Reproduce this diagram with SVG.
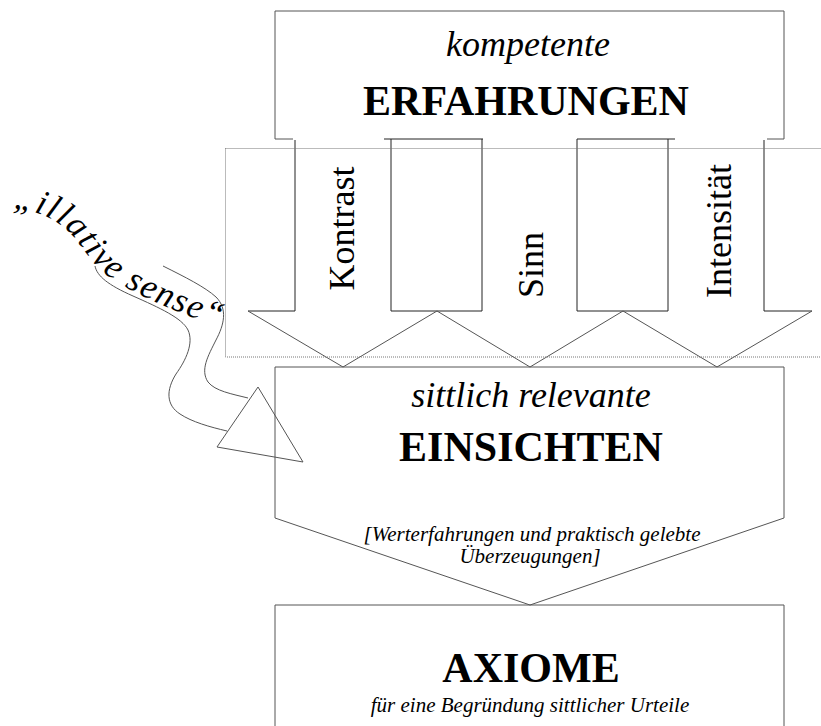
<svg xmlns="http://www.w3.org/2000/svg" width="821" height="726" viewBox="0 0 821 726">
<style>
.ln{fill:none;stroke:#222;stroke-width:1}
.gl{fill:none;stroke:#555;stroke-width:1}
.dot{fill:none;stroke:#777;stroke-width:1;stroke-dasharray:1 1}
.it{font-family:"Liberation Serif","Times New Roman",serif;font-style:italic;fill:#000}
.bd{font-family:"Liberation Serif","Times New Roman",serif;font-weight:bold;fill:#000}
.rg{font-family:"Liberation Serif","Times New Roman",serif;fill:#000}
</style>
<rect width="821" height="726" fill="#fff"/>
<defs>
<path id="illpath" d="M 10,208 C 40,210 62,222 76,240 C 88,255 96,268 112,279 C 140,297 175,312 240,334"/>
</defs>
<g id="erfahrungen">
<path class="gl" d="M 293,139 H 275 V 11 H 784 V 139 H 767"/>
<text class="it" x="528" y="56" font-size="36" text-anchor="middle">kompetente</text>
<text class="bd" x="526" y="115" font-size="42" text-anchor="middle">ERFAHRUNGEN</text>
</g>
<g id="arrows">
<path class="ln" d="M 384,139 H 483 M 391,139 V 311 H 482 V 139"/>
<path class="ln" d="M 577,139 H 675 M 577,139 V 311 H 668 V 139"/>
<path class="ln" d="M 295,140 V 311 H 248"/>
<path class="ln" d="M 764,140 V 311 H 812"/>
<path class="gl" d="M 248,311 L 343,367 L 437,311 L 530,367 L 623,311 L 717,367 L 812,311"/>
<text class="rg" transform="translate(354,228.5) rotate(-90)" font-size="36" text-anchor="middle">Kontrast</text>
<text class="rg" transform="translate(543,265) rotate(-90)" font-size="36" text-anchor="middle">Sinn</text>
<text class="rg" transform="translate(731,231) rotate(-90)" font-size="36" text-anchor="middle">Intensität</text>
</g>
<rect class="dot" x="225.5" y="148.5" width="600" height="208.5"/>
<g id="einsichten">
<polygon class="gl" points="275,367 784,367 784,518 530,605 275,518" fill="#fff"/>
<text class="it" x="531" y="407" font-size="36" text-anchor="middle">sittlich relevante</text>
<text class="bd" x="531" y="461" font-size="42" text-anchor="middle">EINSICHTEN</text>
<text class="it" x="532" y="541" font-size="21" text-anchor="middle">[Werterfahrungen und praktisch gelebte</text>
<text class="it" x="530" y="563" font-size="21" text-anchor="middle">Überzeugungen]</text>
</g>
<g id="axiome">
<path class="gl" d="M 275,726 V 605 H 784 V 726"/>
<text class="bd" x="531" y="682" font-size="42" text-anchor="middle">AXIOME</text>
<text class="it" x="530" y="712" font-size="21" text-anchor="middle">für eine Begründung sittlicher Urteile</text>
</g>
<g id="illative">
<path class="gl" d="M 95,266 C 97,276 108,285 133,296 C 160,308 182,318 188,330 C 194,343 186,360 176,374 C 166,390 166,405 180,414 C 192,422 210,427 227,431"/>
<path class="gl" d="M 163,266 C 185,277 205,287 216,297 C 228,309 224,325 216,340 C 208,356 200,370 208,382 C 215,391 232,394 248,398"/>
<polygon class="gl" points="258,387 217,447 303,462" fill="#fff"/>
<text class="it" font-size="35" letter-spacing="1.5"><textPath href="#illpath" startOffset="3">„illative sense“</textPath></text>
</g>
</svg>
